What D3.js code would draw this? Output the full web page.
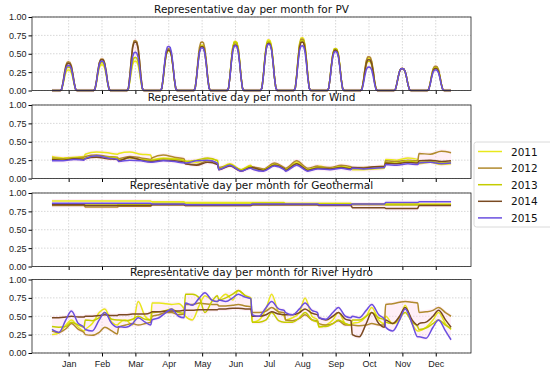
<!DOCTYPE html>
<html>
  <head>
    <meta charset="UTF-8" />
    <script src="https://d3js.org/d3.v7.min.js"></script>
    <style>
      body { margin: 0; background: #fff; }
      svg { font-family: "DejaVu Sans", sans-serif; }
      .grid line { stroke: #bdbdbd; stroke-width: 0.6; stroke-dasharray: 1.5, 1.5; }
      .tick text { font-size: 9px; fill: #222; }
      .title { font-size: 10.5px; fill: #111; }
    </style>
  </head>
  <body>
    <svg width="550" height="373"></svg>
    <script>
      // data
      const years = ["2011", "2012", "2013", "2014", "2015"];
      const colors = ["#e8e81c", "#b08a2e", "#c4cc00", "#7a4a22", "#6a4fe0"];
      const months = ["Jan", "Feb", "Mar", "Apr", "May", "Jun", "Jul", "Aug", "Sep", "Oct", "Nov", "Dec"];
      const yTicks = [0, 0.25, 0.5, 0.75, 1];

      // PV: hourly shape of a day and peak per month
      const pvShape = [0, 0, 0, 0, 0, 0, 0, 0.05, 0.3, 0.62, 0.88, 0.99, 1, 0.98, 0.86, 0.6, 0.28, 0.05, 0, 0, 0, 0, 0, 0];
      const pv2011 = [0.28, 0.35, 0.40, 0.55, 0.62, 0.67, 0.69, 0.72, 0.57, 0.44, 0.30, 0.32];
      const pv2012 = [0.39, 0.43, 0.68, 0.57, 0.66, 0.65, 0.66, 0.70, 0.56, 0.46, 0.30, 0.33];
      const pv2013 = [0.32, 0.38, 0.45, 0.54, 0.60, 0.66, 0.67, 0.68, 0.57, 0.40, 0.30, 0.31];
      const pv2014 = [0.37, 0.42, 0.66, 0.55, 0.60, 0.62, 0.64, 0.66, 0.55, 0.42, 0.30, 0.30];
      const pv2015 = [0.34, 0.40, 0.52, 0.60, 0.58, 0.61, 0.63, 0.61, 0.53, 0.32, 0.30, 0.28];

      // Wind: 4 readings per representative day (hours 0, 8, 16, 23)
      const windHours = [0, 8, 16, 23];
      const wind2011 = [0.30,0.28,0.29,0.30, 0.33,0.36,0.35,0.33, 0.34,0.36,0.33,0.32, 0.26,0.28,0.27,0.25, 0.24,0.22,0.27,0.25, 0.14,0.20,0.12,0.18, 0.15,0.12,0.20,0.14, 0.13,0.22,0.12,0.16, 0.17,0.14,0.16,0.15, 0.12,0.12,0.13,0.14, 0.26,0.25,0.28,0.26, 0.20,0.22,0.19,0.20];
      const wind2012 = [0.28,0.27,0.28,0.29, 0.30,0.32,0.30,0.29, 0.27,0.30,0.28,0.26, 0.28,0.32,0.29,0.27, 0.20,0.19,0.24,0.21, 0.15,0.18,0.11,0.16, 0.16,0.13,0.21,0.15, 0.14,0.24,0.14,0.17, 0.16,0.15,0.18,0.16, 0.15,0.15,0.16,0.17, 0.24,0.23,0.25,0.24, 0.34,0.33,0.37,0.35];
      const wind2013 = [0.27,0.26,0.28,0.27, 0.28,0.30,0.29,0.28, 0.25,0.28,0.26,0.25, 0.25,0.27,0.26,0.24, 0.23,0.25,0.28,0.24, 0.13,0.19,0.12,0.17, 0.14,0.12,0.19,0.13, 0.12,0.20,0.12,0.15, 0.15,0.13,0.16,0.14, 0.14,0.13,0.15,0.15, 0.22,0.21,0.24,0.22, 0.22,0.23,0.21,0.22];
      const wind2014 = [0.26,0.25,0.27,0.26, 0.27,0.29,0.27,0.26, 0.24,0.29,0.25,0.23, 0.23,0.25,0.24,0.22, 0.20,0.18,0.22,0.19, 0.12,0.17,0.10,0.15, 0.15,0.11,0.18,0.13, 0.11,0.20,0.11,0.14, 0.14,0.13,0.15,0.13, 0.15,0.14,0.16,0.16, 0.21,0.20,0.22,0.21, 0.24,0.25,0.23,0.24];
      const wind2015 = [0.24,0.24,0.26,0.25, 0.27,0.31,0.28,0.26, 0.23,0.25,0.24,0.22, 0.22,0.24,0.23,0.21, 0.21,0.24,0.25,0.21, 0.12,0.18,0.10,0.14, 0.13,0.10,0.17,0.12, 0.10,0.18,0.10,0.13, 0.13,0.12,0.14,0.12, 0.14,0.13,0.14,0.15, 0.19,0.18,0.20,0.19, 0.21,0.22,0.20,0.21];

      // Geothermal: one level per representative day
      const geoHours = [0, 12, 23];
      const geo2011 = [0.89, 0.89, 0.89, 0.88, 0.87, 0.87, 0.87, 0.86, 0.86, 0.85, 0.86, 0.85];
      const geo2012 = [0.83, 0.81, 0.82, 0.84, 0.83, 0.83, 0.84, 0.84, 0.84, 0.84, 0.84, 0.84];
      const geo2013 = [0.85, 0.85, 0.84, 0.86, 0.85, 0.85, 0.86, 0.85, 0.85, 0.85, 0.84, 0.84];
      const geo2014 = [0.84, 0.83, 0.83, 0.84, 0.83, 0.83, 0.84, 0.84, 0.83, 0.80, 0.79, 0.83];
      const geo2015 = [0.86, 0.86, 0.86, 0.85, 0.84, 0.84, 0.85, 0.85, 0.84, 0.85, 0.87, 0.88];

      // River hydro: 6 readings per representative day
      const hydroHours = [0, 5, 10, 14, 19, 23];
      const hydro2011 = [0.25,0.27,0.38,0.45,0.35,0.30, 0.32,0.40,0.55,0.60,0.42,0.38, 0.40,0.45,0.38,0.70,0.50,0.45, 0.68,0.68,0.67,0.66,0.67,0.60, 0.50,0.45,0.65,0.78,0.72,0.70, 0.72,0.80,0.72,0.85,0.78,0.75, 0.42,0.45,0.60,0.80,0.55,0.50, 0.45,0.48,0.55,0.75,0.50,0.45, 0.35,0.38,0.45,0.55,0.40,0.38, 0.40,0.42,0.50,0.62,0.45,0.40, 0.50,0.40,0.45,0.65,0.40,0.30, 0.30,0.35,0.45,0.55,0.40,0.32];
      const hydro2012 = [0.30,0.28,0.33,0.40,0.32,0.28, 0.25,0.24,0.28,0.35,0.30,0.26, 0.35,0.38,0.40,0.38,0.40,0.42, 0.50,0.52,0.55,0.55,0.52,0.53, 0.66,0.66,0.68,0.67,0.66,0.66, 0.64,0.64,0.65,0.66,0.64,0.63, 0.55,0.55,0.57,0.62,0.56,0.55, 0.45,0.44,0.47,0.52,0.45,0.43, 0.40,0.38,0.40,0.44,0.38,0.38, 0.38,0.37,0.38,0.40,0.38,0.38, 0.66,0.67,0.69,0.70,0.69,0.68, 0.55,0.56,0.58,0.62,0.55,0.50];
      const hydro2013 = [0.36,0.35,0.36,0.42,0.38,0.35, 0.45,0.44,0.48,0.55,0.46,0.45, 0.45,0.44,0.46,0.50,0.46,0.45, 0.55,0.56,0.58,0.60,0.55,0.54, 0.80,0.80,0.75,0.55,0.70,0.78, 0.72,0.75,0.80,0.85,0.78,0.74, 0.42,0.42,0.45,0.55,0.44,0.42, 0.42,0.42,0.48,0.55,0.45,0.42, 0.36,0.36,0.40,0.45,0.40,0.38, 0.45,0.45,0.50,0.55,0.48,0.45, 0.42,0.40,0.48,0.55,0.42,0.36, 0.32,0.34,0.40,0.45,0.38,0.33];
      const hydro2014 = [0.48,0.48,0.49,0.50,0.49,0.49, 0.50,0.50,0.51,0.52,0.51,0.51, 0.52,0.52,0.53,0.53,0.53,0.55, 0.56,0.56,0.57,0.57,0.57,0.58, 0.58,0.58,0.59,0.59,0.59,0.59, 0.60,0.60,0.61,0.61,0.60,0.60, 0.50,0.50,0.52,0.56,0.53,0.52, 0.52,0.52,0.55,0.60,0.54,0.52, 0.48,0.45,0.50,0.55,0.46,0.44, 0.25,0.22,0.40,0.55,0.40,0.35, 0.45,0.40,0.50,0.62,0.45,0.38, 0.40,0.42,0.50,0.58,0.45,0.35];
      const hydro2015 = [0.32,0.28,0.45,0.57,0.40,0.35, 0.32,0.30,0.45,0.55,0.40,0.35, 0.36,0.35,0.40,0.48,0.42,0.38, 0.45,0.48,0.55,0.60,0.50,0.48, 0.68,0.65,0.75,0.82,0.72,0.70, 0.72,0.70,0.75,0.80,0.76,0.74, 0.52,0.50,0.62,0.70,0.60,0.58, 0.55,0.52,0.60,0.68,0.58,0.55, 0.48,0.46,0.55,0.62,0.50,0.48, 0.50,0.48,0.58,0.66,0.52,0.46, 0.35,0.30,0.45,0.60,0.40,0.22, 0.22,0.20,0.35,0.45,0.30,0.18];

      // turn (hours, values) into points on the hour axis 0..287
      function toPoints(hours, vals, perMonth) {
        const pts = [];
        months.forEach((m, i) => {
          hours.forEach((h, j) => {
            const v = perMonth ? vals[i] : vals[i * hours.length + j];
            pts.push([i * 24 + h, v]);
          });
        });
        return pts;
      }
      function pvPoints(peaks) {
        const pts = [];
        peaks.forEach((p, i) => pvShape.forEach((s, h) => pts.push([i * 24 + h, s * p])));
        return pts;
      }

      const panels = [
        { title: "Representative day per month for PV", top: 17, curve: d3.curveLinear,
          series: [pv2011, pv2012, pv2013, pv2014, pv2015].map(pvPoints) },
        { title: "Representative day per month for Wind", top: 105, curve: d3.curveMonotoneX,
          series: [wind2011, wind2012, wind2013, wind2014, wind2015].map((s) => toPoints(windHours, s, false)) },
        { title: "Representative day per month for Geothermal", top: 193, curve: d3.curveLinear,
          series: [geo2011, geo2012, geo2013, geo2014, geo2015].map((s) => toPoints(geoHours, s, true)) },
        { title: "Representative day per month for River Hydro", top: 279.5, curve: d3.curveMonotoneX,
          series: [hydro2011, hydro2012, hydro2013, hydro2014, hydro2015].map((s) => toPoints(hydroHours, s, false)) },
      ];

      const svg = d3.select("svg");
      const left = 32, right = 471, ph = 73.5;
      const x = d3.scaleLinear().domain([-14.35, 301.35]).range([left, right]);
      const monthCenters = months.map((m, i) => i * 24 + 12);

      panels.forEach((p, pi) => {
        const y = d3.scaleLinear().domain([0, 1]).range([p.top + ph, p.top]);
        const g = svg.append("g");

        // grid
        const grid = g.append("g").attr("class", "grid");
        grid.selectAll(".gx").data(monthCenters).join("line")
          .attr("x1", (d) => x(d)).attr("x2", (d) => x(d))
          .attr("y1", p.top).attr("y2", p.top + ph);
        grid.selectAll(".gy").data(yTicks).join("line")
          .attr("x1", left).attr("x2", right)
          .attr("y1", (d) => y(d)).attr("y2", (d) => y(d));

        // light pink envelope between the years
        const env = p.series[0].map((pt, k) => {
          const vs = p.series.map((s) => s[k][1]);
          return [pt[0], d3.min(vs), d3.max(vs)];
        });
        g.append("path").datum(env)
          .attr("fill", "#ffd6ec").attr("opacity", 0.4)
          .attr("d", d3.area().curve(p.curve).x((d) => x(d[0])).y0((d) => y(d[1]) + 2).y1((d) => y(d[2]) - 2));

        // lines
        const line = d3.line().curve(p.curve).x((d) => x(d[0])).y((d) => y(d[1]));
        p.series.forEach((s, si) => {
          g.append("path").datum(s)
            .attr("fill", "none").attr("stroke", colors[si])
            .attr("stroke-width", 1.5).attr("stroke-linejoin", "round")
            .attr("d", line);
        });

        // axes
        g.append("g").attr("transform", `translate(${left},0)`)
          .call(d3.axisLeft(y).tickValues(yTicks).tickFormat(d3.format(".2f")).tickSize(3.5).tickPadding(2))
          .call((a) => a.select(".domain").remove());
        const xa = g.append("g").attr("transform", `translate(0,${p.top + ph})`)
          .call(d3.axisBottom(x).tickValues(monthCenters).tickSize(3.5).tickPadding(4)
            .tickFormat((d, i) => (pi === 3 ? months[i] : "")));
        xa.select(".domain").remove();

        // frame
        g.append("rect").attr("x", left).attr("y", p.top)
          .attr("width", right - left).attr("height", ph)
          .attr("fill", "none").attr("stroke", "#222").attr("stroke-width", 0.8);

        g.append("text").attr("class", "title")
          .attr("x", (left + right) / 2).attr("y", p.top - 4)
          .attr("text-anchor", "middle").text(p.title);
      });

      // legend
      const lg = svg.append("g").attr("transform", "translate(474,142)");
      lg.append("rect").attr("width", 90).attr("height", 85).attr("rx", 2.5)
        .attr("fill", "#fff").attr("stroke", "#d0d0d0").attr("stroke-width", 0.8);
      years.forEach((yr, i) => {
        const yy = 9.5 + i * 16.6;
        lg.append("line").attr("x1", 4).attr("x2", 28).attr("y1", yy).attr("y2", yy)
          .attr("stroke", colors[i]).attr("stroke-width", 1.5);
        lg.append("text").attr("x", 37).attr("y", yy + 4).attr("font-size", 10.5)
          .attr("fill", "#111").text(yr);
      });
    </script>
  </body>
</html>
